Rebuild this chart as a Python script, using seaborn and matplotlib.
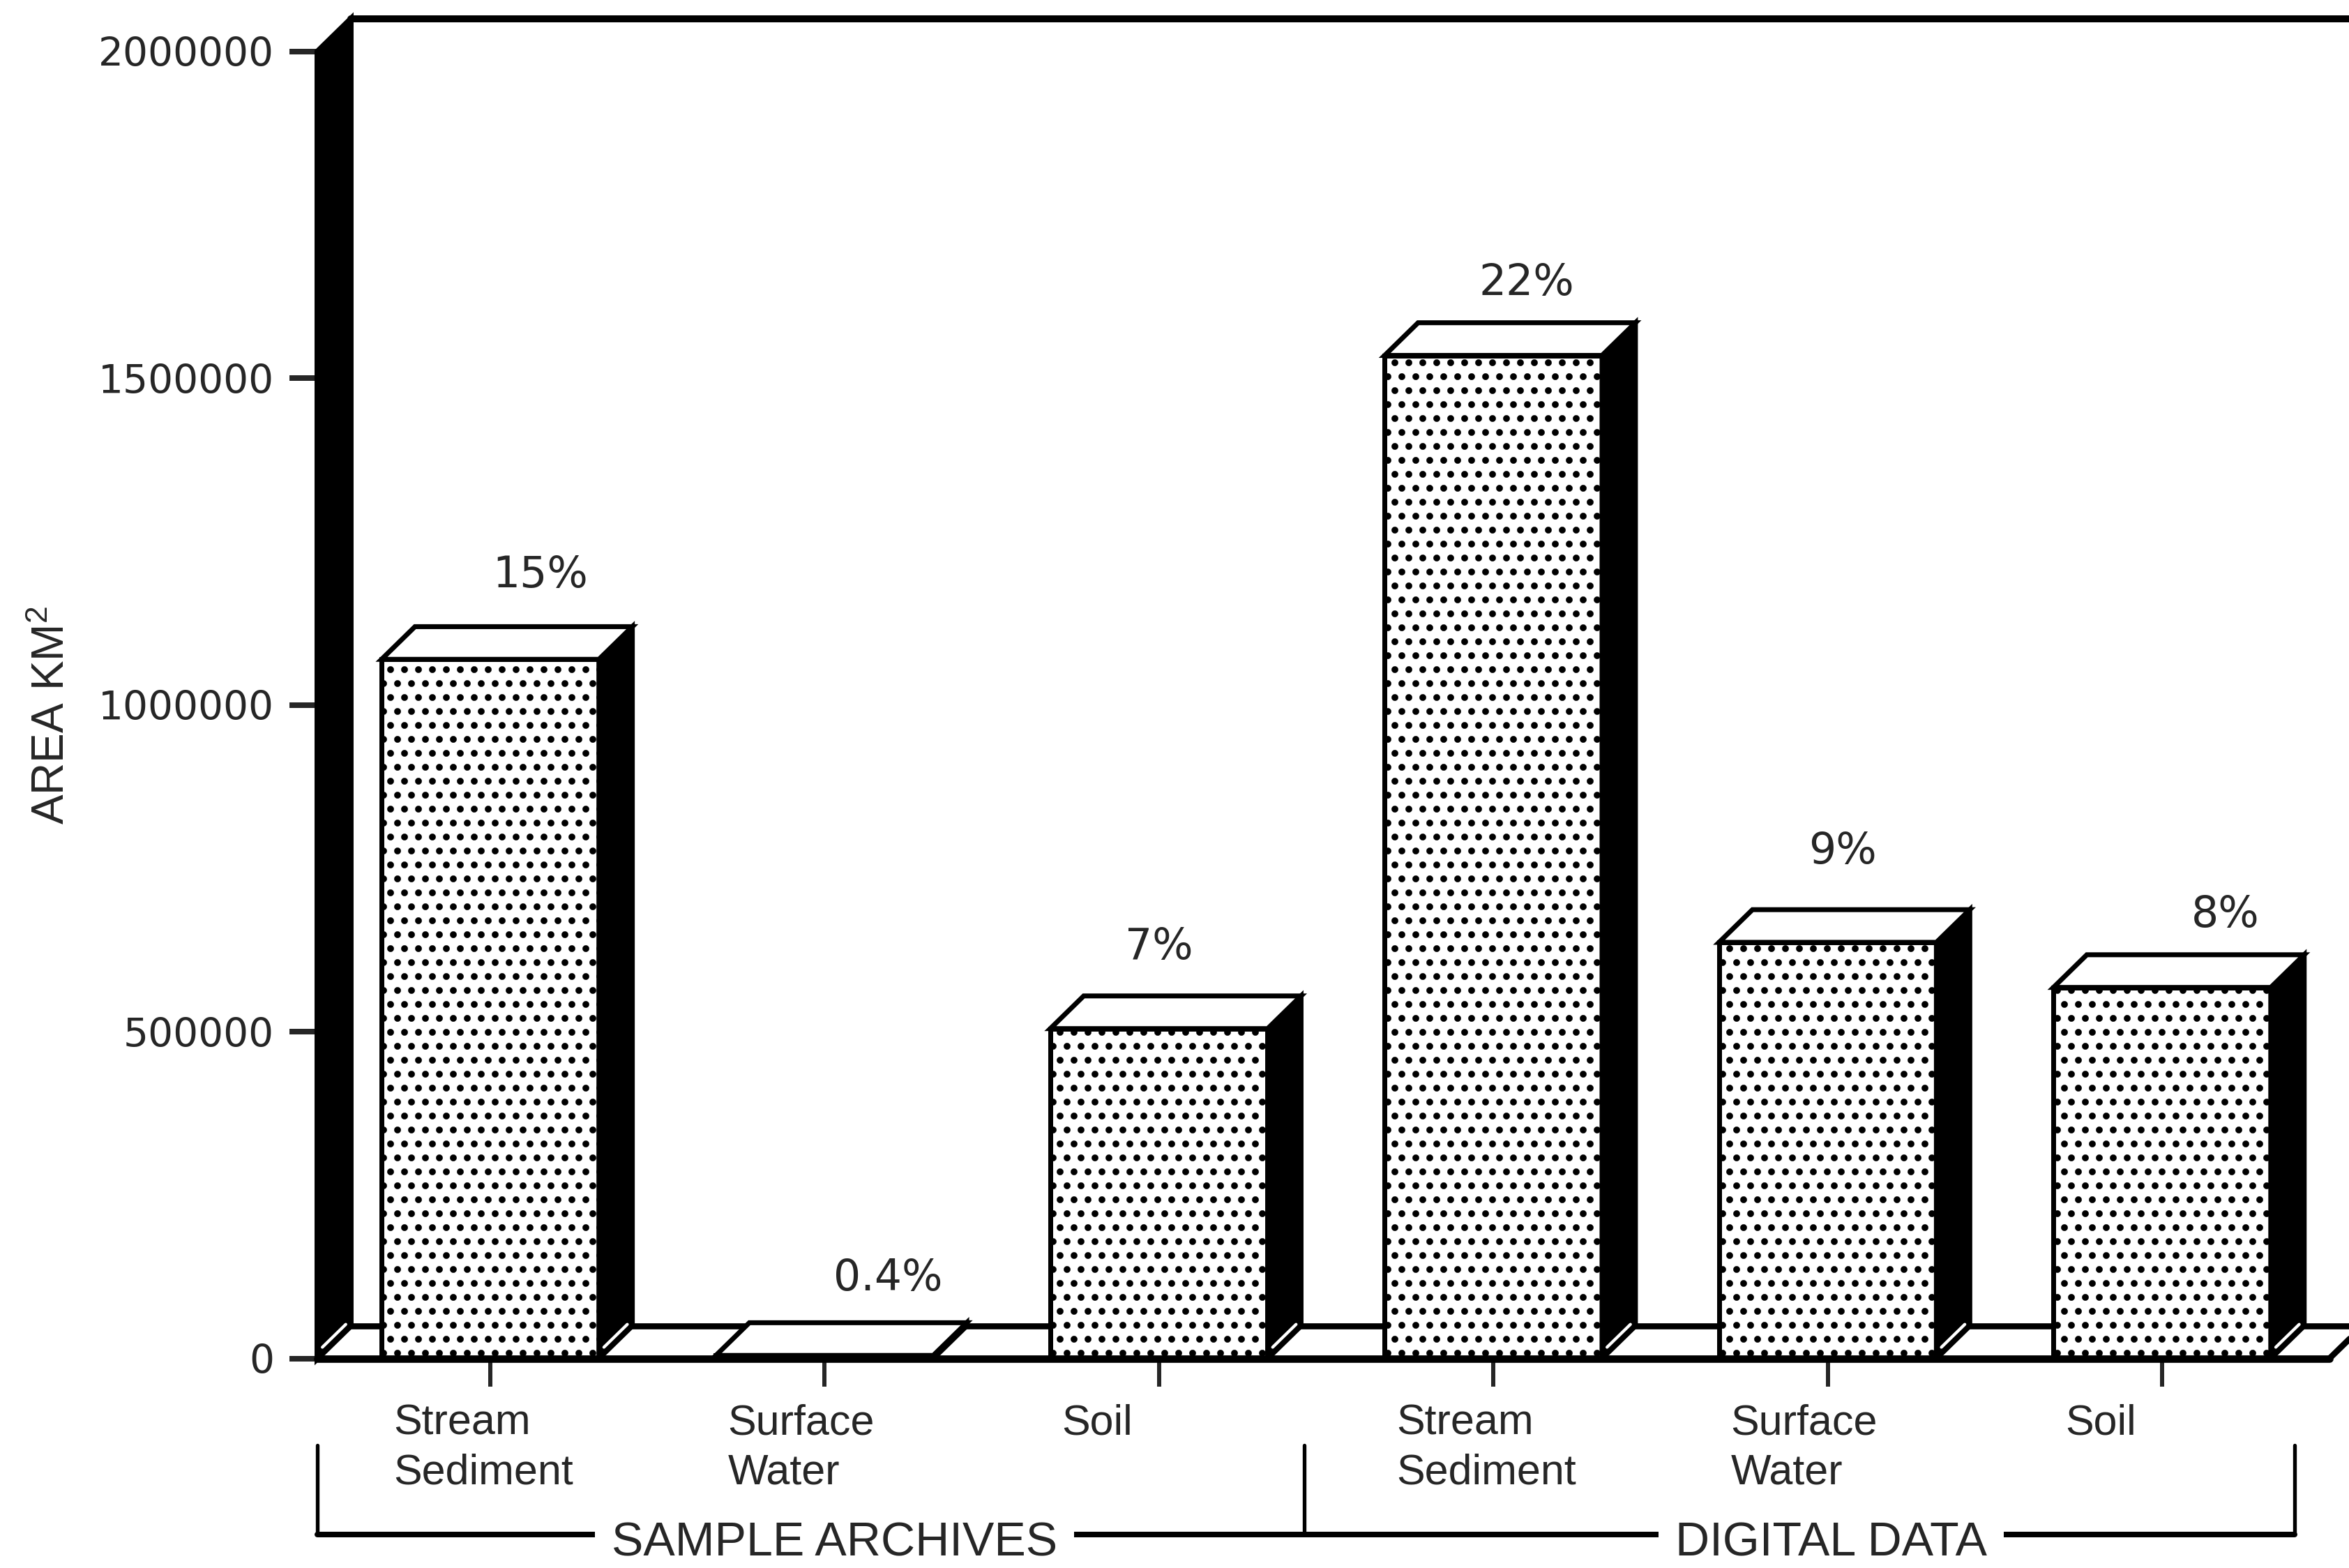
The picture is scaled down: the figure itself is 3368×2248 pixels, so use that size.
import pandas as pd
import matplotlib
matplotlib.use("Agg")
import matplotlib.pyplot as plt
import matplotlib.transforms as mtransforms
from matplotlib.patches import Polygon
import seaborn as sns

# values
groups = ["SAMPLE ARCHIVES", "SAMPLE ARCHIVES", "SAMPLE ARCHIVES",
          "DIGITAL DATA", "DIGITAL DATA", "DIGITAL DATA"]
media = ["Stream\nSediment", "Surface\nWater", "Soil",
         "Stream\nSediment", "Surface\nWater", "Soil"]
area_km2 = [1070000, 5000, 505000, 1535000, 637000, 568000]
pct_labels = ["15%", "0.4%", "7%", "22%", "9%", "8%"]
y_ticks = [0, 500000, 1000000, 1500000, 2000000]
group_names = ["SAMPLE ARCHIVES", "DIGITAL DATA"]

# label placement (style only)
pct_nudge_x = [0.15, 0.19, 0.0, 0.1, 0.045, 0.19]
pct_nudge_pt = [22, 19, 21, 17, 25, 17]
group_edges = [-0.517, 2.434, 5.396]
group_text_x = [1.03, 4.01]

df = pd.DataFrame({"group": groups, "medium": media, "area": area_km2})
df["key"] = [g + "|" + m for g, m in zip(groups, media)]

sns.set_style("white")
plt.rcParams["font.family"] = ["Liberation Sans", "DejaVu Sans"]
plt.rcParams["hatch.linewidth"] = 1.7

fig = plt.figure(figsize=(3368 / 240, 2248 / 240), dpi=240)
ax = fig.add_axes([0.1351, 0.1335, 0.8649, 0.8545])

sns.barplot(data=df, x="key", y="area", order=list(df["key"]), color="white",
            saturation=1, edgecolor="black", linewidth=2.1, width=0.65,
            hatch="..", errorbar=None, zorder=3, ax=ax)

dx, dy = 0.1, 50000
x_lo, x_hi = -0.517, 5.559
y_top = y_ticks[-1] + dy
ax.set_xlim(x_lo, x_hi)
ax.set_ylim(0, y_top)

# 3d look: top and side faces of each bar
for bar in ax.containers[0]:
    l = bar.get_x()
    r = l + bar.get_width()
    h = bar.get_height()
    ax.add_patch(Polygon([(r, 0), (r, h), (r + dx, h + dy), (r + dx, dy)],
                         closed=True, fc="black", ec="black", lw=2.1, zorder=3))
    ax.add_patch(Polygon([(l, h), (r, h), (r + dx, h + dy), (l + dx, h + dy)],
                         closed=True, fc="white", ec="black", lw=2.1, zorder=3.2))
    if h > dy:
        ax.plot([r + 0.15 * dx, r + 0.85 * dx], [0.35 * dy, 1.05 * dy],
                color="white", lw=1.3, zorder=3.5)

# back wall (black band) and floor
ax.add_patch(Polygon([(x_lo, 0), (x_lo, y_ticks[-1]), (x_lo + dx, y_top), (x_lo + dx, dy)],
                     closed=True, fc="black", ec="black", lw=2.4, zorder=2, clip_on=False))
ax.plot([x_lo + 0.15 * dx, x_lo + 0.85 * dx], [0.35 * dy, 1.05 * dy],
        color="white", lw=1.3, zorder=2.5)
ax.plot([x_lo + dx, 5.5 + dx], [dy, dy], color="black", lw=2.6, zorder=1.5, clip_on=False)
ax.plot([5.5, 5.5 + dx], [0, dy], color="black", lw=2.6, zorder=1.5, clip_on=False)
ax.plot([x_lo, 5.5], [0, 0], color="black", lw=3.2, zorder=4, clip_on=False)
ax.plot([x_lo + dx, x_hi], [y_top, y_top], color="black", lw=3, zorder=4, clip_on=False)

for s in ax.spines.values():
    s.set_visible(False)

ax.set_yticks(y_ticks)
ax.set_yticklabels([str(v) for v in y_ticks])
ax.set_xticks(range(len(media)))
ax.set_xticklabels([""] * len(media))
ax.tick_params(axis="y", left=True, direction="out", length=12, width=2.4,
               pad=6.6, labelsize=17)
ax.tick_params(axis="x", bottom=True, direction="out", length=12, width=1.8)
for t in ax.get_yticklabels():
    t.set_family("DejaVu Sans")
ax.set_xlabel("")
ax.set_ylabel("")

# percentage labels over the bars
for bar, lab, nx, ny in zip(ax.containers[0], pct_labels, pct_nudge_x, pct_nudge_pt):
    cx = bar.get_x() + bar.get_width() / 2 + nx
    ax.annotate(lab, (cx, bar.get_height() + dy), xytext=(0, ny),
                textcoords="offset points", ha="center", va="center",
                fontsize=18.5, family="DejaVu Sans", zorder=5)

# category labels and group brackets below the axis
trans = mtransforms.blended_transform_factory(ax.transData, fig.transFigure)
for i, m in enumerate(media):
    ax.text(i - 0.29, 0.1046, m, transform=trans, ha="left", va="top",
            fontsize=18.3, linespacing=1.3, clip_on=False)

for xe in group_edges:
    ax.plot([xe, xe], [0.0783, 0.0214], color="black", lw=1.6,
            transform=trans, clip_on=False)
ax.plot([group_edges[0], group_edges[-1]], [0.0214, 0.0214], color="black",
        lw=2.4, transform=trans, clip_on=False)
for gx, gname in zip(group_text_x, group_names):
    ax.text(gx, 0.0076, gname, transform=trans, ha="center", va="baseline",
            fontsize=20.4, zorder=6, clip_on=False,
            bbox=dict(boxstyle="square,pad=0.35", fc="white", ec="none"))

fig.text(0.0223, 0.544, "AREA KM$\\mathregular{^2}$", rotation=90,
         ha="center", va="center", fontsize=19.2)

fig.savefig("out.png", dpi=240, facecolor="white")
